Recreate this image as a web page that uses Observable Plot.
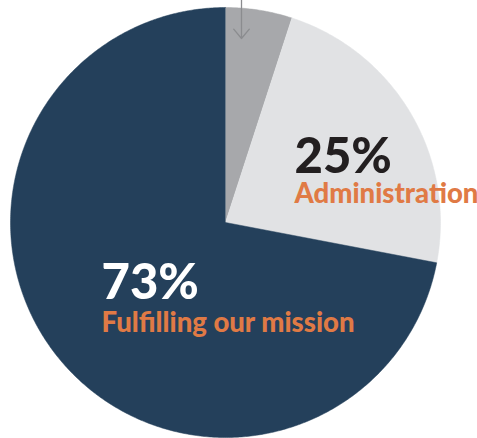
<!DOCTYPE html>
<html>
<head>
<meta charset="utf-8">
<script src="https://cdn.jsdelivr.net/npm/d3@7"></script>
<script src="https://cdn.jsdelivr.net/npm/@observablehq/plot@0.6"></script>
<style>
  html, body { margin: 0; padding: 0; background: #ffffff; }
  #chart svg { display: block; }
</style>
</head>
<body>
<div id="chart"></div>
<script>
// ---- data ----
const categories = ["Fundraising", "Administration", "Fulfilling our mission"];
const shares = [5, 23, 72];                 // drawn slice sizes (%)
const percentLabels = ["", "25%", "73%"];   // printed labels
const sliceColors = ["#a7a8ab", "#e1e2e4", "#24405b"];

// ---- layout ----
const W = 477, H = 438, CX = 225, CY = 222, R = 215;

// slices computed from data via d3.pie (clockwise from 12 o'clock)
const pie = d3.pie().sort(null).value(d => d.value)(
  categories.map((c, i) => ({category: c, value: shares[i]}))
);
const slicePts = [];
pie.forEach(p => {
  slicePts.push({category: p.data.category, x: 0, y: 0});
  const steps = Math.max(2, Math.ceil((p.endAngle - p.startAngle) / (Math.PI / 360)));
  for (let k = 0; k <= steps; k++) {
    const a = p.startAngle + (p.endAngle - p.startAngle) * k / steps;
    slicePts.push({category: p.data.category, x: Math.sin(a), y: Math.cos(a)});
  }
});

const labels = [
  {pct: percentLabels[1], name: categories[1], x: (294 - CX) / R, y1: (CY - 172) / R, y2: (CY - 202) / R, pctFill: "#231f20"},
  {pct: percentLabels[2], name: categories[2], x: (101 - CX) / R, y1: (CY - 298) / R, y2: (CY - 331) / R, pctFill: "#ffffff"}
];

const chart = Plot.plot({
  width: W,
  height: H,
  margin: 0,
  x: {domain: [-CX / R, (W - CX) / R], axis: null},
  y: {domain: [-(H - CY) / R, CY / R], axis: null},
  color: {domain: categories, range: sliceColors},
  marks: [
    Plot.line(slicePts, {x: "x", y: "y", z: "category", fill: "category", stroke: "category", strokeWidth: 0.5, curve: "linear"}),
    Plot.arrow([{x: 16 / R, y1: (CY + 2) / R, y2: (CY - 38) / R}], {
      x1: "x", x2: "x", y1: "y1", y2: "y2",
      stroke: "#8b8c8f", strokeWidth: 1.3, headLength: 14, headAngle: 80
    }),
    Plot.text(labels, {
      x: "x", y: "y1", text: "pct", fill: "pctFill",
      textAnchor: "start", lineAnchor: "bottom",
      fontFamily: "Lato", fontWeight: 900, fontSize: 49
    }),
    Plot.text(labels, {
      x: "x", y: "y2", text: "name", fill: "#e07a45",
      textAnchor: "start", lineAnchor: "bottom",
      fontFamily: "Lato", fontWeight: 900, fontSize: 27.5
    })
  ]
});
document.getElementById("chart").appendChild(chart);
</script>
</body>
</html>
